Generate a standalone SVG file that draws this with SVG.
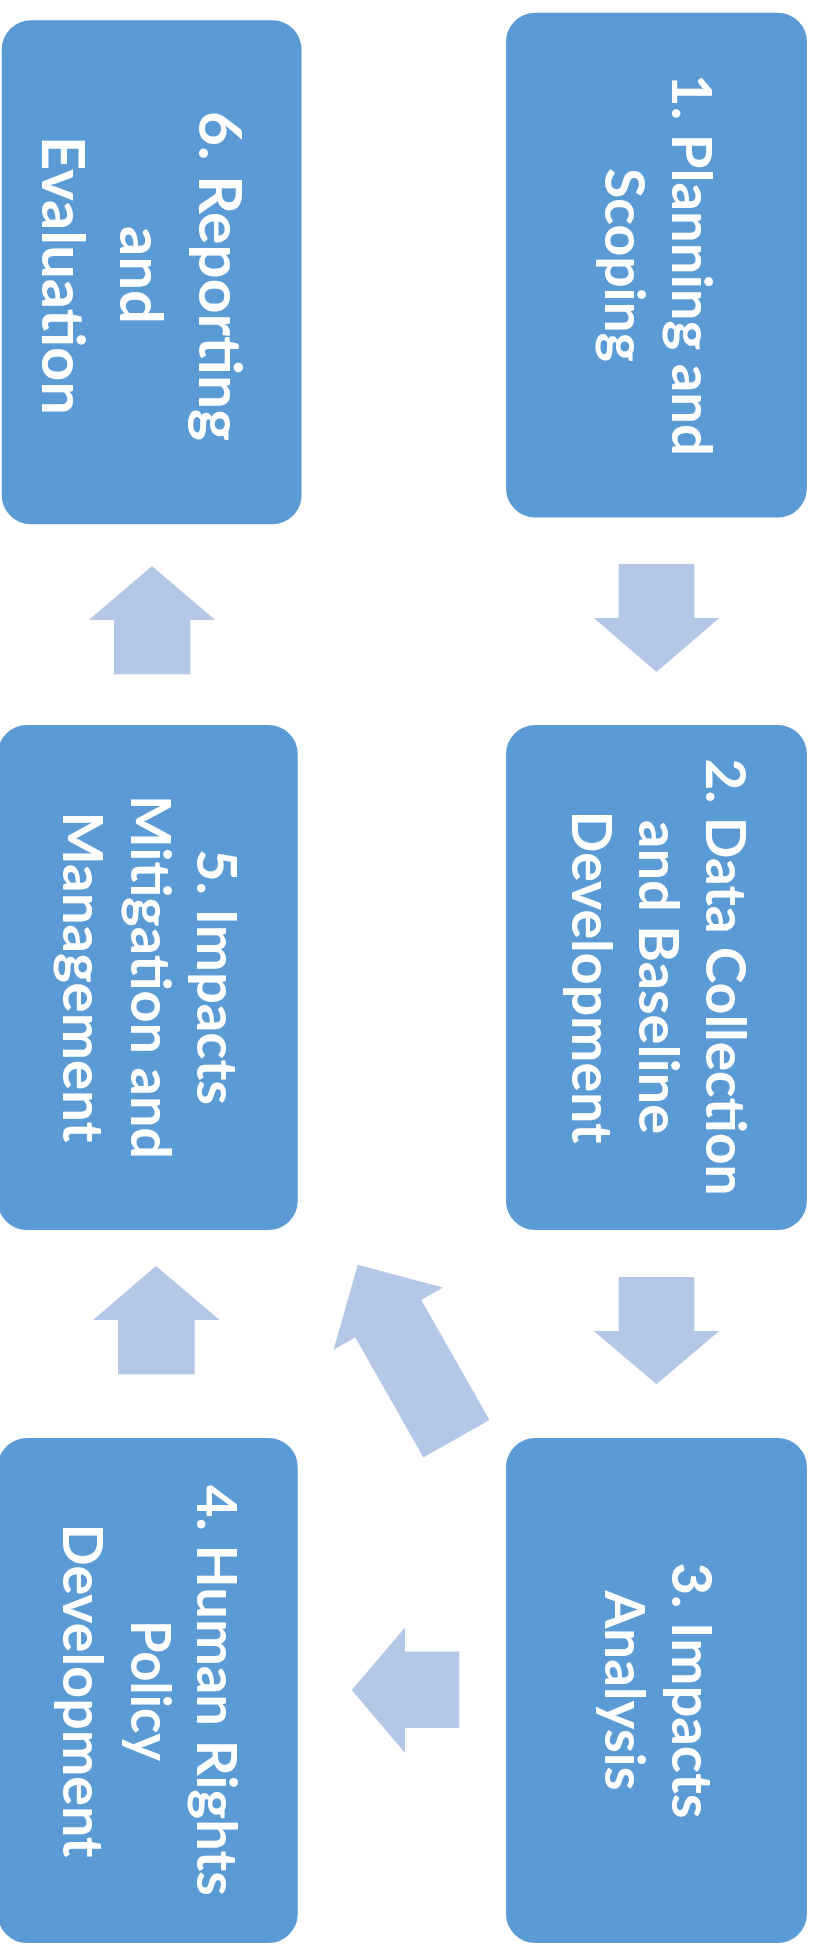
<svg xmlns="http://www.w3.org/2000/svg" width="816" height="1948" viewBox="0 0 816 1948">
<style>
.box{fill:#5B9BD5;stroke:#FFFFFF;stroke-width:1.5}
.arrow{fill:#B4C7E7;stroke:none}
.lbl{font-family:Lato,"Open Sans","Liberation Sans",sans-serif;font-weight:700;font-size:54.5px;fill:#FFFFFF;text-anchor:middle}
.big{font-size:59px}
</style>
<rect width="816" height="1948" fill="#FFFFFF"/>
<g id="connectors">
  <polygon class="arrow" points="618.7,564 694.3,564 694.3,618 719.3,618 656.5,672 593.7,618 618.7,618"/>
  <polygon class="arrow" points="618.7,1277 694.3,1277 694.3,1331 719.3,1331 656.5,1384.3 593.7,1331 618.7,1331"/>
  <polygon class="arrow" points="114,674.3 190.3,674.3 190.3,620 215.3,620 152,566 88.7,620 114,620"/>
  <polygon class="arrow" points="118,1374.3 194.7,1374.3 194.7,1320 219.7,1320 156,1266 93,1320 118,1320"/>
  <polygon class="arrow" points="459.3,1651.5 459.3,1728 405,1728 405,1753 351.7,1690 405,1627.4 405,1651.5"/>
  <polygon class="arrow" transform="translate(357.7,1264.8) rotate(-29.6)" points="0,0 63,62 38,62 38,200 -38,200 -38,62 -63,62"/>
</g>
<g id="node1">
  <rect class="box" x="505.3" y="12" width="302.4" height="506.3" rx="30"/>
  <text class="lbl" transform="translate(672,265) rotate(90)" textLength="382" lengthAdjust="spacingAndGlyphs">1. Planning and</text>
  <text class="lbl" transform="translate(605,265) rotate(90)" textLength="194" lengthAdjust="spacingAndGlyphs">Scoping</text>
</g>
<g id="node2">
  <rect class="box" x="505.3" y="724.3" width="302.4" height="506.4" rx="30"/>
  <text class="lbl" transform="translate(705.7,977) rotate(90)" textLength="437" lengthAdjust="spacingAndGlyphs">2. Data Collection</text>
  <text class="lbl" transform="translate(639,977) rotate(90)" textLength="314" lengthAdjust="spacingAndGlyphs">and Baseline</text>
  <text class="lbl" transform="translate(571.7,977) rotate(90)" textLength="333" lengthAdjust="spacingAndGlyphs">Development</text>
</g>
<g id="node3">
  <rect class="box" x="505.3" y="1437.3" width="302.4" height="506.4" rx="30"/>
  <text class="lbl" transform="translate(672,1690.5) rotate(90)" textLength="256" lengthAdjust="spacingAndGlyphs">3. Impacts</text>
  <text class="lbl" transform="translate(605,1690.5) rotate(90)" textLength="200" lengthAdjust="spacingAndGlyphs">Analysis</text>
</g>
<g id="node4">
  <rect class="box" x="-3" y="1437.3" width="301.5" height="506.4" rx="30"/>
  <text class="lbl" transform="translate(196.7,1690.5) rotate(90)" textLength="411" lengthAdjust="spacingAndGlyphs">4. Human Rights</text>
  <text class="lbl" transform="translate(130.7,1690.5) rotate(90)" textLength="141" lengthAdjust="spacingAndGlyphs">Policy</text>
  <text class="lbl" transform="translate(62.7,1690.5) rotate(90)" textLength="334" lengthAdjust="spacingAndGlyphs">Development</text>
</g>
<g id="node5">
  <rect class="box" x="-3" y="724.3" width="301.5" height="506.4" rx="30"/>
  <text class="lbl" transform="translate(196.7,977) rotate(90)" textLength="256" lengthAdjust="spacingAndGlyphs">5. Impacts</text>
  <text class="lbl" transform="translate(130.7,977) rotate(90)" textLength="364" lengthAdjust="spacingAndGlyphs">Mitigation and</text>
  <text class="lbl" transform="translate(62.7,977) rotate(90)" textLength="331" lengthAdjust="spacingAndGlyphs">Management</text>
</g>
<g id="node6">
  <rect class="box" x="1" y="19.5" width="301.3" height="505.5" rx="30"/>
  <text class="lbl big" transform="translate(199,276) rotate(90)" textLength="330" lengthAdjust="spacingAndGlyphs">6. Reporting</text>
  <text class="lbl big" transform="translate(120,275) rotate(90)" textLength="98" lengthAdjust="spacingAndGlyphs">and</text>
  <text class="lbl big" transform="translate(41.7,275.5) rotate(90)" textLength="279" lengthAdjust="spacingAndGlyphs">Evaluation</text>
</g>
</svg>
